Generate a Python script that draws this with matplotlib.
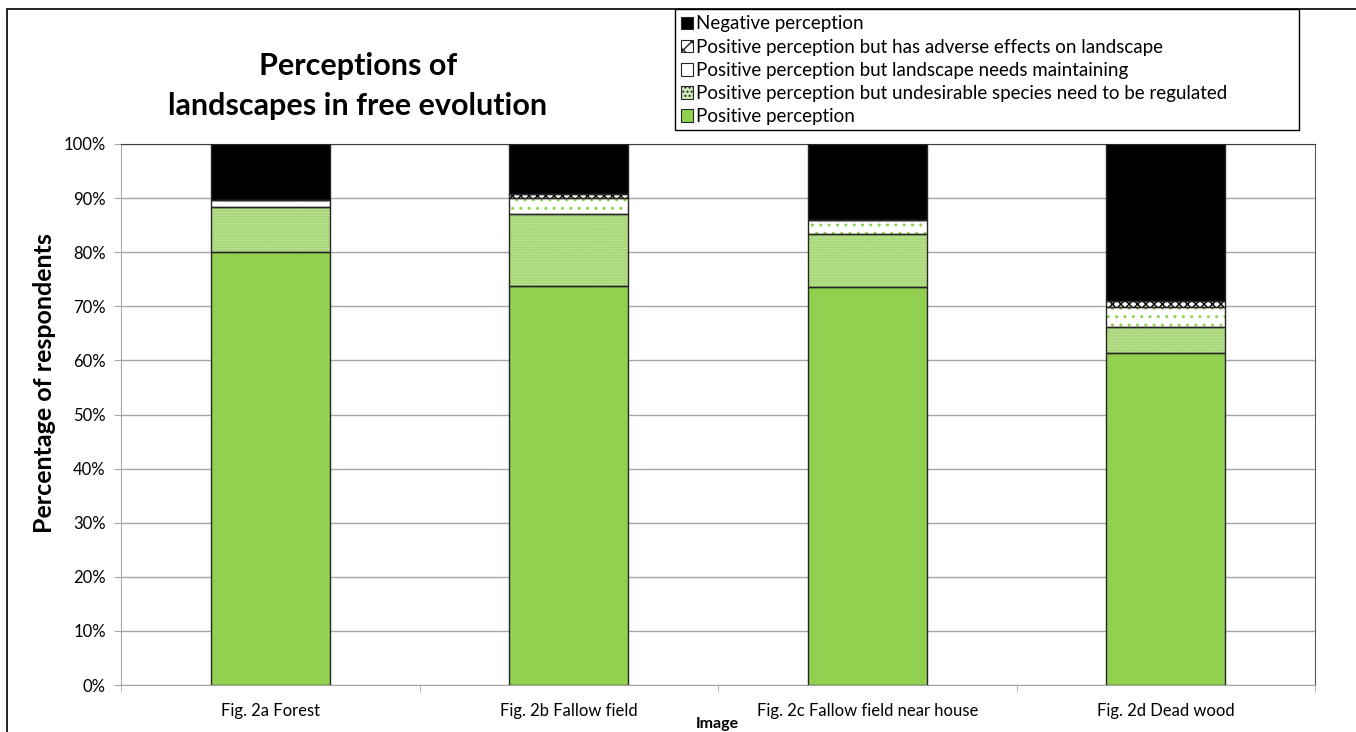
import numpy as np
import matplotlib
matplotlib.use('Agg')
import matplotlib.pyplot as plt
from matplotlib.patches import Rectangle, Patch
from matplotlib.ticker import FixedLocator, PercentFormatter

plt.rcParams['font.family'] = ['Lato', 'DejaVu Sans']
plt.rcParams['hatch.linewidth'] = 1.0

images = ['Fig. 2a Forest', 'Fig. 2b Fallow field',
          'Fig. 2c Fallow field near house', 'Fig. 2d Dead wood']

# share of respondents (%) per response, bottom to top
positive = [80.0, 73.7, 73.5, 61.4]
pos_undesirable = [8.4, 13.4, 9.9, 4.7]
pos_maintain = [1.3, 3.0, 2.6, 3.7]
pos_adverse = [0.0, 0.6, 0.0, 1.2]
negative = [10.3, 9.3, 14.0, 29.0]

green = '#92d050'
edge = '#262626'

fig = plt.figure(figsize=(13.56, 7.32), dpi=100, facecolor='white')
ax = fig.add_axes([121 / 1356, 1 - 685 / 732, (1315 - 121) / 1356, (685 - 144) / 732])

x = np.arange(len(images))
w = 0.4

series = [
    (positive, green, None, green),
    (pos_undesirable, '#d6ecbe', 'oooooo', '#a8d878'),
    (pos_maintain, 'white', '..', green),
    (pos_adverse, 'white', 'xxxx', 'black'),
    (negative, 'black', None, 'black'),
]

bottom = np.zeros(len(images))
for vals, fc, hatch, hc in series:
    vals = np.array(vals)
    # fill + hatch first, outline drawn on top
    ax.bar(x, vals, w, bottom=bottom, color=fc, hatch=hatch, edgecolor=hc,
           linewidth=0, zorder=3)
    ax.bar(x, vals, w, bottom=bottom, fill=False, edgecolor=edge,
           linewidth=1.0, zorder=4)
    bottom += vals

ax.set_xlim(-0.5, len(images) - 0.5)
ax.set_ylim(0, 100)
ax.yaxis.set_major_locator(FixedLocator(np.arange(0, 101, 10)))
ax.yaxis.set_major_formatter(PercentFormatter(decimals=0))
ax.grid(axis='y', color='#a6a6a6', linewidth=1.0, zorder=0)
ax.set_axisbelow(True)

ax.set_xticks(x)
ax.set_xticklabels(images, fontsize=12)
ax.set_xticks(np.arange(-0.5, len(images)), minor=True)
ax.tick_params(axis='x', which='major', length=0, pad=13)
ax.tick_params(axis='x', which='minor', length=5, color='#a6a6a6', direction='out')
ax.tick_params(axis='y', length=5, color='#a6a6a6', labelsize=12, pad=6)

ax.spines['left'].set_color('#a6a6a6')
ax.spines['bottom'].set_color('#a6a6a6')
ax.spines['top'].set_color('#404040')
ax.spines['right'].set_color('#595959')

fig.text(45 / 1356, 1 - 383 / 732, 'Percentage of respondents', fontsize=18,
         fontweight='bold', rotation=90, ha='center', va='center')
fig.text(717 / 1356, 1 - 724 / 732, 'Image', fontsize=11.5, fontweight='bold',
         ha='center', va='center')

fig.text(358 / 1356, 1 - 86 / 732, 'Perceptions of\nlandscapes in free evolution',
         fontsize=22, fontweight='bold', ha='center', va='center', linespacing=1.5)

# outer chart frame
fig.patches.append(Rectangle((7 / 1356, -0.01), 1.02, 1 - 9 / 732 + 0.01,
                             transform=fig.transFigure, fill=False,
                             edgecolor='black', linewidth=1.2, zorder=0))

# legend box
fig.patches.append(Rectangle((675 / 1356, 1 - 130 / 732), (1299 - 675) / 1356, 121 / 732,
                             transform=fig.transFigure, facecolor='white',
                             edgecolor='black', linewidth=1.0, zorder=1))

labels = ['Negative perception',
          'Positive perception but has adverse effects on landscape',
          'Positive perception but landscape needs maintaining',
          'Positive perception but undesirable species need to be regulated',
          'Positive perception']
legend_hatch = [None, 'xx', None, '....', None]
handles = []
for (vals, fc, hatch, hc), lh in zip(series[::-1], legend_hatch):
    handles.append(Patch(facecolor=fc, hatch=lh, edgecolor=edge, linewidth=0.8))

leg = fig.legend(handles, labels, loc='upper left',
                 bbox_to_anchor=(673 / 1356, 1 - 8 / 732), frameon=False,
                 fontsize=13.5, handlelength=0.65, handleheight=0.65,
                 handletextpad=0.2, labelspacing=0.33, borderaxespad=0)
leg.set_zorder(2)

fig.savefig('out.png', dpi=100, facecolor='white')
